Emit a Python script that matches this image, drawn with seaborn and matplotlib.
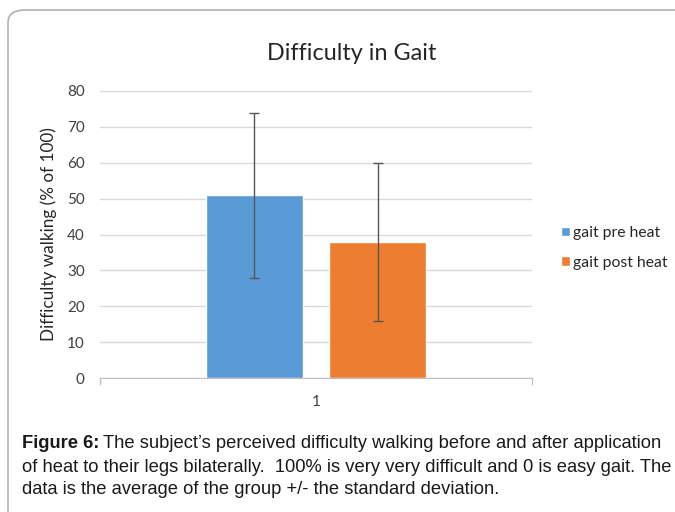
import matplotlib
matplotlib.use("Agg")
import matplotlib.pyplot as plt
from matplotlib.patches import FancyBboxPatch
import pandas as pd
import seaborn as sns

# data
groups = ["1", "1"]
series = ["gait pre heat", "gait post heat"]
means = [51, 38]
sds = [23, 22]
colors = ["#5B9BD5", "#ED7D31"]

df = pd.DataFrame({"group": groups, "series": series, "value": means})

sns.set_style("white")
plt.rcParams['font.family'] = ['Lato', 'DejaVu Sans']

fig = plt.figure(figsize=(6.75, 5.12), dpi=100)
ax = fig.add_axes([100 / 675, 1 - 378 / 512, 432 / 675, 287 / 512])

sns.barplot(data=df, x="group", y="value", hue="series", palette=colors,
            width=0.57, gap=0.212, errorbar=None, saturation=1, ax=ax)

# error bars at the bar centres
for patch, sd in zip(ax.patches, sds):
    cx = patch.get_x() + patch.get_width() / 2
    ax.errorbar(cx, patch.get_height(), yerr=sd, color="#555555",
                linewidth=1, capsize=3.5, capthick=1)

ax.set_xlim(-0.5, 0.5)
ax.set_ylim(0, 80)
ax.set_yticks(range(0, 81, 10))
ax.yaxis.grid(True, color="#D9D9D9", linewidth=1)
ax.set_axisbelow(True)
for s in ["top", "right", "left"]:
    ax.spines[s].set_visible(False)
ax.spines["bottom"].set_color("#BFBFBF")
ax.tick_params(axis="y", length=0, labelsize=11, colors="#404040", pad=11)
ax.tick_params(axis="x", length=0, labelsize=11, colors="#404040", pad=12)
ax.set_xticks([-0.5, 0, 0.5])
ax.set_xticklabels(["", "1", ""])
ax.plot([-0.5, -0.5], [0, -1.6], color="#BFBFBF", lw=1, clip_on=False)
ax.plot([0.5, 0.5], [0, -1.6], color="#BFBFBF", lw=1, clip_on=False)
ax.set_xlabel("")
ax.set_ylabel("Difficulty walking (% of 100)", fontsize=12.3, color="#262626", labelpad=7)
fig.text(352 / 675, 1 - 53 / 512, "Difficulty in Gait", fontsize=16.8,
         color="#262626", ha="center", va="center")

leg = ax.legend(loc="center left", bbox_to_anchor=(1.034, 0.453), frameon=False,
                fontsize=11.3, handlelength=0.58, handleheight=0.58,
                handletextpad=0.2, labelspacing=1.0)
for txt in leg.get_texts():
    txt.set_color("#262626")

# rounded frame around the chart
frame = FancyBboxPatch((8 / 675, -0.2), 1.2, 1 - 10 / 512 + 0.2,
                       boxstyle="round,pad=0,rounding_size=0.025",
                       transform=fig.transFigure, fill=False,
                       edgecolor="#B0B0B0", linewidth=1.2)
fig.patches.append(frame)

# caption, bold lead followed by plain text
cap_font = ['Liberation Sans', 'DejaVu Sans']
cap_size = 13.2
lead = fig.text(22 / 675, 1 - 443 / 512, "Figure 6:", fontsize=cap_size, fontweight="bold",
                family=cap_font, va="center", color="#1a1a1a")
fig.canvas.draw()
bb = lead.get_window_extent(renderer=fig.canvas.get_renderer())
fig.text(bb.x1 / 675 + 4 / 675, 1 - 443 / 512,
         "The subject\u2019s perceived difficulty walking before and after application",
         fontsize=cap_size, family=cap_font, va="center", color="#1a1a1a")
fig.text(22 / 675, 1 - 467 / 512,
         "of heat to their legs bilaterally.  100% is very very difficult and 0 is easy gait. The",
         fontsize=cap_size, family=cap_font, va="center", color="#1a1a1a")
fig.text(22 / 675, 1 - 490 / 512,
         "data is the average of the group +/- the standard deviation.",
         fontsize=cap_size, family=cap_font, va="center", color="#1a1a1a")

fig.savefig("out.png", dpi=100)
